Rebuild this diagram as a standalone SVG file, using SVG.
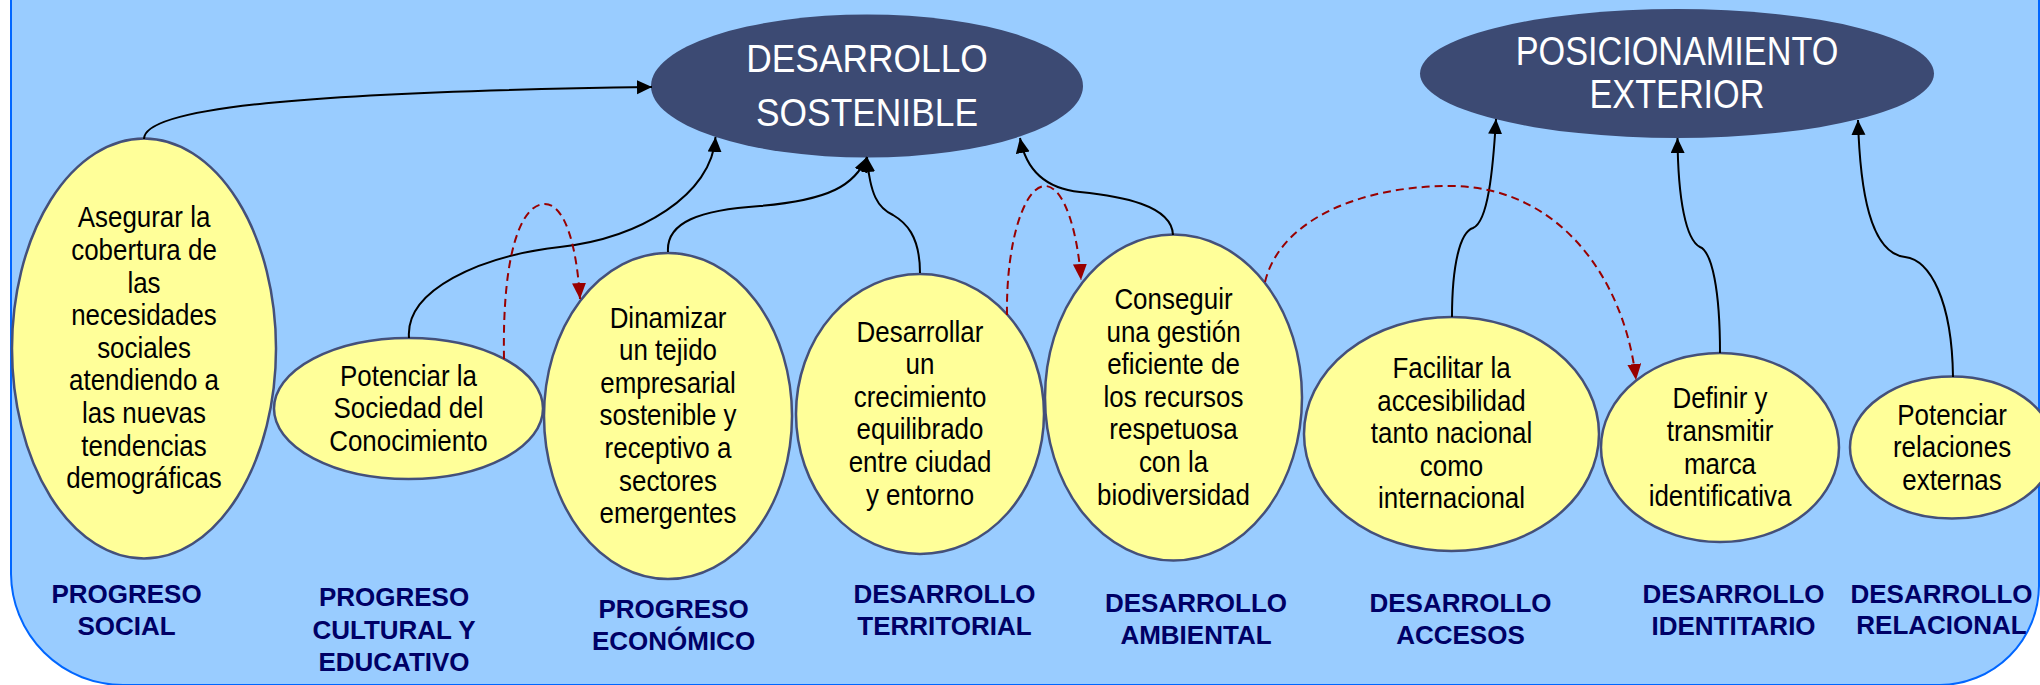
<svg xmlns="http://www.w3.org/2000/svg" width="2040" height="685" viewBox="0 0 2040 685">
<defs>
<style>
.bg{fill:#99CCFF;stroke:#0066FF;stroke-width:2}
.y{fill:#FFFF99;stroke:#44507A;stroke-width:2.5}
.d{fill:#3C4A73;stroke:none}
.t{font-family:"Liberation Sans",Arial,sans-serif;font-size:30px;fill:#000;text-anchor:middle}
.h{font-family:"Liberation Sans",Arial,sans-serif;fill:#fff;text-anchor:middle}
.l{font-family:"Liberation Sans",Arial,sans-serif;font-size:26px;font-weight:bold;fill:#000066;text-anchor:middle}
.c{fill:none;stroke:#000;stroke-width:2}
.r{fill:none;stroke:#990000;stroke-width:2;stroke-dasharray:8 5}
</style>
<marker id="ab" markerUnits="userSpaceOnUse" markerWidth="16" markerHeight="15" refX="15" refY="7" orient="auto">
<path d="M0,0 L15,7 L0,14 z" fill="#000"/>
</marker>
<marker id="ar" markerUnits="userSpaceOnUse" markerWidth="17" markerHeight="15" refX="16" refY="7" orient="auto">
<path d="M0,0 L16,7 L0,14 z" fill="#990000"/>
</marker>
</defs>
<path class="bg" d="M11,-10 V574 A112,112 0 0 0 123,685 H1940 A100,100 0 0 0 2039,586 V-10 Z"/>

<g id="desarrollo-sostenible">
<ellipse class="d" cx="867" cy="86" rx="216" ry="71.5"/>
<text class="h" font-size="39.5" transform="translate(867 0) scale(0.895 1)"><tspan x="0" y="71.7">DESARROLLO</tspan><tspan x="0" y="126">SOSTENIBLE</tspan></text>
</g>
<g id="posicionamiento-exterior">
<ellipse class="d" cx="1677" cy="73.5" rx="257" ry="64.5"/>
<text class="h" font-size="40.5" transform="translate(1677 0) scale(0.845 1)"><tspan x="0" y="65">POSICIONAMIENTO</tspan><tspan x="0" y="108.3">EXTERIOR</tspan></text>
</g>

<g id="n-social">
<ellipse class="y" cx="144" cy="348.5" rx="132" ry="210"/>
<text class="t" transform="translate(144 0) scale(0.865 1)"><tspan x="0" y="227.5">Asegurar la</tspan><tspan x="0" y="260.1">cobertura de</tspan><tspan x="0" y="292.7">las</tspan><tspan x="0" y="325.3">necesidades</tspan><tspan x="0" y="357.9">sociales</tspan><tspan x="0" y="390.5">atendiendo a</tspan><tspan x="0" y="423.1">las nuevas</tspan><tspan x="0" y="455.7">tendencias</tspan><tspan x="0" y="488.3">demográficas</tspan></text>
</g>
<g id="n-cultural">
<ellipse class="y" cx="408.5" cy="408.5" rx="134.5" ry="70.5"/>
<text class="t" transform="translate(408.5 0) scale(0.865 1)"><tspan x="0" y="385.8">Potenciar la</tspan><tspan x="0" y="418.5">Sociedad del</tspan><tspan x="0" y="451.2">Conocimiento</tspan></text>
</g>
<g id="n-economico">
<ellipse class="y" cx="668" cy="416" rx="124" ry="163"/>
<text class="t" transform="translate(668 0) scale(0.865 1)"><tspan x="0" y="327.6">Dinamizar</tspan><tspan x="0" y="360.2">un tejido</tspan><tspan x="0" y="392.8">empresarial</tspan><tspan x="0" y="425.4">sostenible y</tspan><tspan x="0" y="458">receptivo a</tspan><tspan x="0" y="490.6">sectores</tspan><tspan x="0" y="523.2">emergentes</tspan></text>
</g>
<g id="n-territorial">
<ellipse class="y" cx="920" cy="414" rx="124" ry="140"/>
<text class="t" transform="translate(920 0) scale(0.865 1)"><tspan x="0" y="341.6">Desarrollar</tspan><tspan x="0" y="374.2">un</tspan><tspan x="0" y="406.8">crecimiento</tspan><tspan x="0" y="439.4">equilibrado</tspan><tspan x="0" y="472">entre ciudad</tspan><tspan x="0" y="504.6">y entorno</tspan></text>
</g>
<g id="n-ambiental">
<ellipse class="y" cx="1173.5" cy="397.5" rx="128.5" ry="163"/>
<text class="t" transform="translate(1173.5 0) scale(0.865 1)"><tspan x="0" y="309">Conseguir</tspan><tspan x="0" y="341.6">una gestión</tspan><tspan x="0" y="374.2">eficiente de</tspan><tspan x="0" y="406.8">los recursos</tspan><tspan x="0" y="439.4">respetuosa</tspan><tspan x="0" y="472">con la</tspan><tspan x="0" y="504.6">biodiversidad</tspan></text>
</g>
<g id="n-accesos">
<ellipse class="y" cx="1451.5" cy="434" rx="147.5" ry="117"/>
<text class="t" transform="translate(1451.5 0) scale(0.865 1)"><tspan x="0" y="378">Facilitar la</tspan><tspan x="0" y="410.6">accesibilidad</tspan><tspan x="0" y="443.2">tanto nacional</tspan><tspan x="0" y="475.8">como</tspan><tspan x="0" y="508.4">internacional</tspan></text>
</g>
<g id="n-identitario">
<ellipse class="y" cx="1720" cy="447.5" rx="119" ry="94.5"/>
<text class="t" transform="translate(1720 0) scale(0.865 1)"><tspan x="0" y="408.5">Definir y</tspan><tspan x="0" y="441.1">transmitir</tspan><tspan x="0" y="473.7">marca</tspan><tspan x="0" y="506.3">identificativa</tspan></text>
</g>
<g id="n-relacional">
<ellipse class="y" cx="1952" cy="447.6" rx="102" ry="71"/>
<text class="t" transform="translate(1952 0) scale(0.865 1)"><tspan x="0" y="424.6">Potenciar</tspan><tspan x="0" y="457.2">relaciones</tspan><tspan x="0" y="489.8">externas</tspan></text>
</g>

<g id="labels">
<text class="l"><tspan x="126.5" y="603">PROGRESO</tspan><tspan x="126.5" y="634.5">SOCIAL</tspan></text>
<text class="l"><tspan x="394" y="606.4">PROGRESO</tspan><tspan x="394" y="638.6">CULTURAL Y</tspan><tspan x="394" y="670.8">EDUCATIVO</tspan></text>
<text class="l"><tspan x="673.5" y="618">PROGRESO</tspan><tspan x="673.5" y="650">ECONÓMICO</tspan></text>
<text class="l"><tspan x="944.5" y="602.7">DESARROLLO</tspan><tspan x="944.5" y="635">TERRITORIAL</tspan></text>
<text class="l"><tspan x="1196" y="611.6">DESARROLLO</tspan><tspan x="1196" y="643.8">AMBIENTAL</tspan></text>
<text class="l"><tspan x="1460.5" y="611.7">DESARROLLO</tspan><tspan x="1460.5" y="643.5">ACCESOS</tspan></text>
<text class="l"><tspan x="1733.5" y="603">DESARROLLO</tspan><tspan x="1733.5" y="634.5">IDENTITARIO</tspan></text>
<text class="l"><tspan x="1941.5" y="602.5">DESARROLLO</tspan><tspan x="1941.5" y="634.3">RELACIONAL</tspan></text>
</g>

<g id="connectors">
<path class="c" marker-end="url(#ab)" d="M144,139 C144,108 300,92 652,87"/>
<path class="c" marker-end="url(#ab)" d="M409,338 C405,290 480,256 560,247 C640,238 712,195 715.5,137"/>
<path class="c" marker-end="url(#ab)" d="M668,252 C666,222 700,210 760,206 C830,200 855,185 867,157"/>
<path class="c" marker-end="url(#ab)" d="M920,273 C920,235 905,222 893,215 C878,208 870,195 867,157"/>
<path class="c" marker-end="url(#ab)" d="M1173,235 C1172,205 1120,196 1080,192 C1040,188 1025,165 1020,138"/>
<path class="c" marker-end="url(#ab)" d="M1452,317 C1452,265 1460,232 1473,228 C1488,222 1493,170 1496,119"/>
<path class="c" marker-end="url(#ab)" d="M1720,353 C1720,290 1712,252 1700,247 C1686,240 1678,200 1677.5,138"/>
<path class="c" marker-end="url(#ab)" d="M1953,377 C1952,300 1930,260 1905,257 C1870,253 1860,190 1858,120"/>
<path class="r" marker-end="url(#ar)" d="M504,359 C502,250 522,205 544,204 C566,203 577,250 580,299"/>
<path class="r" marker-end="url(#ar)" d="M1007,315 C1006,240 1025,186 1045,186 C1065,186 1078,235 1081,280"/>
<path class="r" marker-end="url(#ar)" d="M1265,282 C1280,220 1360,186 1450,186 C1560,186 1625,280 1636,380"/>
</g>
</svg>
